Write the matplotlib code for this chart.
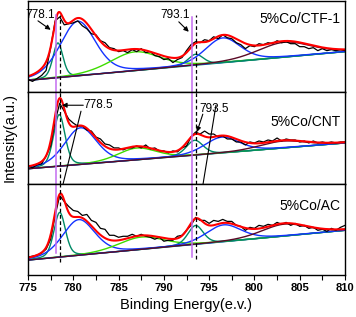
import numpy as np
import matplotlib
matplotlib.use("Agg")
import matplotlib.pyplot as plt

plt.rcParams['font.family'] = ['Liberation Sans', 'DejaVu Sans']

# binding energy grid of the measured spectra (0.5 eV step)
energy = np.arange(775.0, 810.01, 0.5)

ctf_counts = [13, 11, 14, 17, 22, 45, 72, 76, 68, 69, 70, 72, 67, 64, 59, 58, 52, 50, 45, 44,
              41, 42, 40, 43, 41, 44, 40, 41, 37, 36, 33, 34, 30, 33, 35, 42, 48, 51, 50, 53,
              52, 56, 54, 58, 55, 54, 50, 48, 44, 47, 46, 49, 48, 50, 49, 52, 50, 51, 49, 49,
              46, 46, 44, 45, 42, 44, 42, 43, 42, 43, 42]
cnt_counts = [18, 16, 19, 20, 28, 38, 63, 81, 73, 65, 61, 58, 58, 54, 53, 47, 45, 40, 39, 36,
              36, 34, 36, 36, 38, 36, 39, 35, 36, 33, 33, 31, 33, 32, 36, 38, 47, 52, 50, 53,
              50, 50, 47, 48, 45, 45, 42, 42, 39, 42, 41, 43, 42, 44, 43, 46, 43, 45, 44, 44,
              42, 43, 41, 43, 41, 42, 41, 42, 41, 42, 42]
ac_counts = [18, 19, 20, 22, 26, 36, 60, 80, 74, 69, 65, 64, 60, 61, 55, 53, 47, 46, 40, 40,
             38, 39, 39, 41, 39, 41, 39, 38, 36, 38, 34, 35, 35, 39, 40, 45, 50, 58, 55, 55,
             52, 55, 54, 56, 54, 54, 50, 49, 45, 48, 47, 50, 49, 51, 50, 53, 51, 53, 50, 52,
             49, 50, 47, 48, 45, 46, 44, 47, 45, 48, 50]

# fitted components: centre (eV), height, FWHM (eV)
ctf_centers = [778.3, 780.5, 786.8, 793.5, 796.5, 803.3]
ctf_heights = [35, 55, 19, 11, 25, 15]
ctf_fwhm = [1.3, 4.6, 6.5, 2.0, 4.6, 7.0]
cnt_centers = [778.45, 780.8, 787.0, 793.4, 796.4, 803.1]
cnt_heights = [52, 37, 12, 15, 16, 7]
cnt_fwhm = [1.5, 4.2, 5.0, 2.2, 4.5, 6.0]
ac_centers = [778.5, 780.6, 787.5, 793.5, 796.6, 803.3]
ac_heights = [45, 36, 12.5, 19, 17, 12]
ac_fwhm = [1.5, 4.2, 6.0, 2.0, 4.6, 6.0]

# linear background, value at 775 and 810 eV
ctf_bg = [12, 41]
cnt_bg = [15, 41]
ac_bg = [15, 45]

labels = ["5%Co/CTF-1", "5%Co/CNT", "5%Co/AC"]
comp_colors = ["#008a66", "#1433ff", "#3ddc00", "#008a66", "#1433ff", "#5a0a26"]

panels = [
    (ctf_counts, ctf_centers, ctf_heights, ctf_fwhm, ctf_bg),
    (cnt_counts, cnt_centers, cnt_heights, cnt_fwhm, cnt_bg),
    (ac_counts, ac_centers, ac_heights, ac_fwhm, ac_bg),
]


def pvoigt(x, c, h, w, eta=0.3):
    g = np.exp(-4 * np.log(2) * ((x - c) / w) ** 2)
    l = 1 / (1 + 4 * ((x - c) / w) ** 2)
    return h * (eta * l + (1 - eta) * g)


fig = plt.figure(figsize=(3.56, 3.17), dpi=100)
left, right = 28 / 356, 345 / 356
top, bottom = 1 - 1 / 317, 1 - 275 / 317
ph = (top - bottom) / 3
axes = []
xf = np.linspace(775, 810, 700)
for i, (counts, cen, hei, fw, bg) in enumerate(panels):
    ax = fig.add_axes([left, top - (i + 1) * ph, right - left, ph])
    axes.append(ax)
    base = bg[0] + (bg[1] - bg[0]) * (xf - 775) / 35
    total = base.copy()
    for c, h, w, col in zip(cen, hei, fw, comp_colors):
        comp = pvoigt(xf, c, h, w)
        total += comp
        ax.plot(xf, base + comp, color=col, lw=1.0)
    ax.plot(energy, counts, color="black", lw=0.9)
    ax.plot(xf, total, color="#ff0000", lw=1.5)
    ax.set_xlim(775, 810)
    ax.set_ylim(0, 92)
    ax.set_yticks([])
    ax.set_xticks(np.arange(775, 811, 5))
    ax.set_xticks(np.arange(775, 811, 2.5), minor=True)
    ax.tick_params(axis='x', direction='out', length=3.5, width=0.8)
    ax.tick_params(axis='x', which='minor', direction='out', length=3.5, width=0.8)
    for s in ax.spines.values():
        s.set_linewidth(1.0)
    if i < 2:
        ax.tick_params(axis='x', labelbottom=False)
    ax.text(0.985, [0.8, 0.68, 0.76][i], labels[i], transform=ax.transAxes,
            ha='right', va='center', fontsize=10)

ax1, ax2, ax3 = axes
for lab in ax3.get_xticklabels():
    lab.set_fontweight('bold')
ax3.tick_params(axis='x', labelsize=8, pad=2)
ax3.set_xlabel("Binding Energy(e.v.)", fontsize=10.5, labelpad=4)
fig.text(0.028, 0.565, "Intensity(a.u.)", rotation=90, ha='center', va='center', fontsize=10.5)

# reference lines through all panels
pink = "#c46cf0"
for x, y_top, y_bot in [(778.1, 0.85, 0.24), (793.1, 0.83, 0.20)]:
    ax1.axvline(x, ymin=0, ymax=y_top, color=pink, lw=1.1)
    ax2.axvline(x, color=pink, lw=1.1)
    ax3.axvline(x, ymin=y_bot, ymax=1, color=pink, lw=1.1)
for x, y_top, y_bot in [(778.5, 0.85, 0.14), (793.5, 0.85, 0.17)]:
    ax1.axvline(x, ymin=0, ymax=y_top, color="black", lw=0.9, ls=(0, (3, 2)))
    ax2.axvline(x, color="black", lw=0.9, ls=(0, (3, 2)))
    ax3.axvline(x, ymin=y_bot, ymax=1, color="black", lw=0.9, ls=(0, (3, 2)))

arr = dict(arrowstyle='-|>', color='black', lw=0.8, mutation_scale=7, shrinkA=0, shrinkB=0)
ax1.text(776.3, 78, "778.1", ha='center', va='center', fontsize=8.5)
ax1.annotate('', xy=(777.5, 63), xytext=(776.1, 72), arrowprops=arr)
ax1.text(791.2, 78, "793.1", ha='center', va='center', fontsize=8.5)
ax1.annotate('', xy=(792.75, 61), xytext=(791.65, 71), arrowprops=arr)

ax2.text(782.8, 79, "778.5", ha='center', va='center', fontsize=8.5)
ax2.annotate('', xy=(778.75, 79), xytext=(781.1, 79), arrowprops=arr)
ax2.annotate('', xy=(778.53, 79), xycoords=ax3.transData, xytext=(780.85, 73),
             textcoords=ax2.transData, arrowprops=arr, annotation_clip=False)
ax2.text(795.5, 75, "793.5", ha='center', va='center', fontsize=8.5)
ax2.annotate('', xy=(793.65, 52), xytext=(794.3, 70), arrowprops=arr)
ax2.annotate('', xy=(793.76, 60), xycoords=ax3.transData, xytext=(795.75, 79),
             textcoords=ax2.transData, arrowprops=arr, annotation_clip=False)

fig.savefig("out.png", dpi=100)
